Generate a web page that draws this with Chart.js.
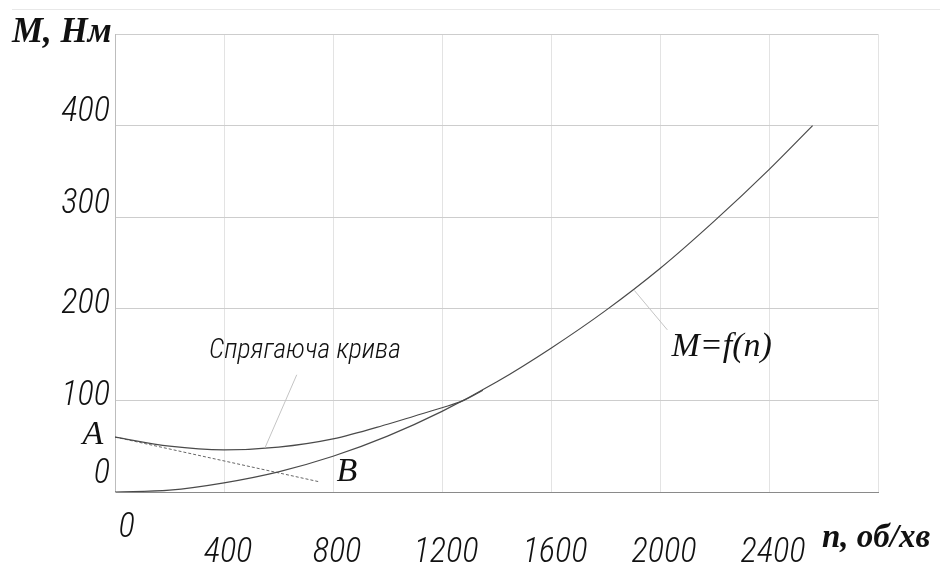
<!DOCTYPE html>
<html>
<head>
<meta charset="utf-8">
<script src="https://cdn.jsdelivr.net/npm/chart.js@4.4.1/dist/chart.umd.min.js"></script>
<style>
  html, body { margin: 0; padding: 0; background: #ffffff; }
  #wrap { position: relative; width: 940px; height: 569px; }
  #topline { position: absolute; left: 12px; right: 0; top: 9px; border-top: 1px solid #e8e8e8; }
  canvas { position: absolute; left: 0; top: 0; }
</style>
</head>
<body>
<div id="wrap">
  <div id="topline"></div>
  <canvas id="c" width="940" height="569"></canvas>
</div>
<script>
// ---- data ----
const speedN = [0, 200, 400, 600, 800, 1000, 1200, 1400, 1600, 1800, 2000, 2200, 2400, 2560];
const torqueM = [0, 2, 10, 22, 39, 61, 88, 120, 157, 198, 244, 296, 352, 400];

const matchN = [0, 200, 400, 600, 800, 1000, 1100, 1200, 1280, 1350];
const matchM = [60, 50, 46, 49, 58, 74, 83, 92, 100, 111];

const lineABn = [0, 752];
const lineABm = [60, 11];

const xTickLabels = ['0', '400', '800', '1200', '1600', '2000', '2400'];
const yTickLabels = ['0', '100', '200', '300', '400'];

const xAxisTitle = 'n, об/хв';
const yAxisTitle = 'M, Нм';
const curveLabel = 'M=f(n)';
const matchLabel = 'Спрягаюча крива';
const pointA = 'A';
const pointB = 'B';

// ---- pick the narrowest available sans face (style only) ----
const mctx = document.createElement('canvas').getContext('2d');
function mw(font, txt) { mctx.font = font; return mctx.measureText(txt).width; }
function asc(font, txt) { mctx.font = font; return mctx.measureText(txt).actualBoundingBoxAscent; }
function hasFamily(fam) {
  const t = '3000 Спрягаюча';
  return mw("33px " + fam + ", monospace", t) !== mw("33px monospace", t) ||
         mw("33px " + fam + ", serif", t) !== mw("33px serif", t);
}
let tech = { family: "'DejaVu Sans Condensed', sans-serif", weight: 'normal' };
const candidates = [
  { family: "'Liberation Sans Narrow'", weight: 'normal', fam: true },
  { family: "'Roboto Condensed'", weight: '300', fam: true },
  { family: "'Noto Sans'", weight: '300 extra-condensed', stretch: true },
  { family: "'Open Sans'", weight: '300 condensed', stretch: true },
  { family: "'Roboto'", weight: '300 condensed', stretch: true }
];
for (const c of candidates) {
  let ok = false;
  if (c.fam) ok = hasFamily(c.family);
  else {
    const base = mw("italic 33px " + c.family, '3000');
    const nar = mw("italic " + c.weight + " 33px " + c.family, '3000');
    ok = hasFamily(c.family) && nar < base * 0.85;
  }
  if (ok) { tech = { family: c.family + ", sans-serif", weight: c.weight }; break; }
}
const f33 = "italic " + tech.weight + " 33px " + tech.family;
const byHeight = 33 * 25 / (asc(f33, '0') || 24);
const byWidth = 33 * 51 / mw(f33, '300');
const tickSize = Math.round(Math.min(byHeight, byWidth) * 10) / 10;
const capW = mw("italic " + tech.weight + " 30px " + tech.family, matchLabel);
const capSize = Math.min(34, 30 * 192 / capW);

const serifFont = "'Liberation Serif', 'DejaVu Serif', serif";

// label nudges expressed as blank lines (style only)
const yLift = { 0: 4, 100: 1, 200: 1, 300: 3, 400: 3 };

const pts = (xs, ys) => xs.map((v, i) => ({ x: v, y: ys[i] }));

const notes = {
  id: 'notes',
  afterDatasetsDraw(chart) {
    const { ctx, scales: { x, y } } = chart;
    const P = (n, m) => [x.getPixelForValue(n), y.getPixelForValue(m)];
    ctx.save();
    ctx.strokeStyle = '#c4c4c4';
    ctx.lineWidth = 1;
    const lead = (a, b) => {
      const p1 = P(a[0], a[1]), p2 = P(b[0], b[1]);
      ctx.beginPath(); ctx.moveTo(p1[0], p1[1]); ctx.lineTo(p2[0], p2[1]); ctx.stroke();
    };
    lead([667, 128], [550, 48]);
    lead([1906, 220], [2027, 177]);

    ctx.fillStyle = '#111';
    ctx.font = "italic " + tech.weight + " " + capSize + "px " + tech.family;
    ctx.textAlign = 'left'; ctx.textBaseline = 'middle';
    let p = P(345, 154);
    ctx.fillText(matchLabel, p[0], p[1]);

    ctx.font = "italic 34px " + serifFont;
    ctx.textBaseline = 'alphabetic';
    p = P(2042, 148);
    ctx.fillText(curveLabel, p[0], p[1]);

    ctx.textAlign = 'center'; ctx.textBaseline = 'middle';
    p = P(-81, 62);
    ctx.fillText(pointA, p[0], p[1]);
    p = P(851, 22);
    ctx.fillText(pointB, p[0], p[1]);

    ctx.font = "bold italic 35px " + serifFont;
    ctx.textAlign = 'left'; ctx.textBaseline = 'alphabetic';
    ctx.fillText(yAxisTitle, 12, 42);
    ctx.font = "bold italic 33px " + serifFont;
    ctx.fillText(xAxisTitle, 822, 547);
    ctx.restore();
  }
};

new Chart(document.getElementById('c'), {
  type: 'line',
  data: {
    datasets: [
      { data: pts(speedN, torqueM), borderColor: '#4a4a4a', borderWidth: 1.2, pointRadius: 0, cubicInterpolationMode: 'monotone', fill: false },
      { data: pts(matchN, matchM), borderColor: '#4a4a4a', borderWidth: 1.2, pointRadius: 0, cubicInterpolationMode: 'monotone', fill: false },
      { data: pts(lineABn, lineABm), borderColor: '#666', borderWidth: 1, borderDash: [3, 2], pointRadius: 0, fill: false }
    ]
  },
  options: {
    responsive: false,
    animation: false,
    devicePixelRatio: 1,
    layout: { padding: { top: 34, right: 62, left: 0, bottom: 0 } },
    plugins: { legend: { display: false }, tooltip: { enabled: false } },
    scales: {
      x: {
        type: 'linear', min: 0, max: 2800,
        afterFit(s) { s.height = 77; },
        grid: { color: '#e3e3e3', drawTicks: false },
        border: { color: '#8a8a8a', width: 1 },
        ticks: {
          stepSize: 400, padding: 24, labelOffset: 4, maxRotation: 0, autoSkip: false,
          color: '#111',
          font: { family: tech.family, style: 'italic', weight: tech.weight, size: tickSize, lineHeight: '25px' },
          callback(v) {
            const i = Math.round(v / 400);
            if (i >= xTickLabels.length) return '';
            const lbl = xTickLabels[i];
            if (v === 0) return '  ' + lbl;
            return ['', lbl];
          }
        }
      },
      y: {
        type: 'linear', min: 0, max: 500,
        afterFit(s) { s.width = 115; },
        grid: { color: '#cdcdcd', drawTicks: false },
        border: { color: '#bdbdbd', width: 1 },
        ticks: {
          stepSize: 100, padding: 5,
          color: '#111',
          font: { family: tech.family, style: 'italic', weight: tech.weight, size: tickSize, lineHeight: '8.8px' },
          callback(v) {
            const i = Math.round(v / 100);
            if (i >= yTickLabels.length) return '';
            const lines = [yTickLabels[i]];
            for (let k = 0; k < (yLift[v] || 0); k++) lines.push('');
            return lines;
          }
        }
      }
    }
  },
  plugins: [notes]
});
</script>
</body>
</html>
